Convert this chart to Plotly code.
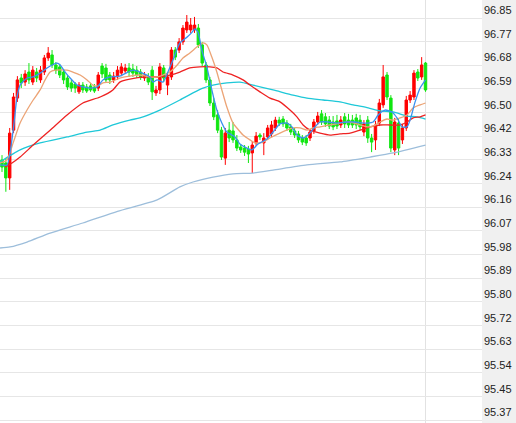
import plotly.graph_objects as go

# ---- candle data (price values) ----
idx = list(range(111))

open_ = [96.327, 96.316, 96.261, 96.437, 96.555, 96.629, 96.614, 96.651, 96.614, 96.651,
         96.622, 96.651, 96.703, 96.714, 96.677, 96.670, 96.651, 96.629, 96.611, 96.607,
         96.578, 96.603, 96.596, 96.600, 96.596, 96.592, 96.673, 96.666, 96.640, 96.622,
         96.633, 96.647, 96.655, 96.666, 96.662, 96.658, 96.651, 96.629, 96.633, 96.658,
         96.574, 96.585, 96.666, 96.603, 96.633, 96.732, 96.732, 96.762, 96.806, 96.806,
         96.806, 96.813, 96.751, 96.677, 96.622, 96.537, 96.493, 96.437, 96.334, 96.437,
         96.434, 96.401, 96.375, 96.371, 96.367, 96.353, 96.390, 96.419, 96.390, 96.412,
         96.423, 96.445, 96.474, 96.478, 96.463, 96.449, 96.434, 96.423, 96.408, 96.408,
         96.408, 96.434, 96.467, 96.497, 96.486, 96.474, 96.467, 96.471, 96.456, 96.486,
         96.474, 96.474, 96.482, 96.474, 96.430, 96.474, 96.408, 96.401, 96.463, 96.530,
         96.640, 96.555, 96.364, 96.463, 96.401, 96.445, 96.548, 96.559, 96.651, 96.633,
         96.684]

high = [96.345, 96.334, 96.445, 96.574, 96.636, 96.644, 96.658, 96.684, 96.673, 96.666,
        96.673, 96.714, 96.743, 96.732, 96.688, 96.681, 96.662, 96.640, 96.622, 96.614,
        96.614, 96.614, 96.607, 96.611, 96.607, 96.651, 96.684, 96.681, 96.651, 96.651,
        96.673, 96.684, 96.681, 96.684, 96.681, 96.673, 96.662, 96.651, 96.647, 96.673,
        96.600, 96.684, 96.677, 96.644, 96.743, 96.743, 96.776, 96.824, 96.861, 96.850,
        96.854, 96.828, 96.762, 96.688, 96.633, 96.555, 96.511, 96.449, 96.445, 96.467,
        96.467, 96.419, 96.386, 96.382, 96.379, 96.397, 96.430, 96.426, 96.426, 96.456,
        96.471, 96.486, 96.486, 96.489, 96.474, 96.460, 96.445, 96.434, 96.419, 96.419,
        96.441, 96.478, 96.504, 96.511, 96.500, 96.489, 96.489, 96.493, 96.489, 96.500,
        96.497, 96.493, 96.497, 96.493, 96.474, 96.489, 96.423, 96.471, 96.552, 96.677,
        96.651, 96.566, 96.482, 96.478, 96.460, 96.563, 96.581, 96.658, 96.662, 96.706,
        96.688]

low = [96.283, 96.210, 96.217, 96.426, 96.541, 96.592, 96.600, 96.607, 96.603, 96.614,
       96.611, 96.640, 96.692, 96.666, 96.644, 96.629, 96.607, 96.585, 96.578, 96.574,
       96.570, 96.574, 96.574, 96.578, 96.574, 96.581, 96.629, 96.611, 96.607, 96.611,
       96.622, 96.636, 96.644, 96.633, 96.633, 96.629, 96.622, 96.618, 96.603, 96.548,
       96.563, 96.570, 96.614, 96.566, 96.622, 96.695, 96.721, 96.751, 96.795, 96.795,
       96.795, 96.740, 96.673, 96.611, 96.526, 96.474, 96.426, 96.327, 96.309, 96.393,
       96.390, 96.360, 96.353, 96.342, 96.316, 96.279, 96.379, 96.401, 96.345, 96.401,
       96.412, 96.434, 96.452, 96.449, 96.434, 96.419, 96.408, 96.390, 96.382, 96.379,
       96.397, 96.423, 96.456, 96.456, 96.449, 96.441, 96.437, 96.441, 96.445, 96.445,
       96.445, 96.445, 96.441, 96.437, 96.415, 96.390, 96.356, 96.364, 96.452, 96.519,
       96.548, 96.356, 96.345, 96.345, 96.386, 96.434, 96.537, 96.548, 96.618, 96.622,
       96.578]

close = [96.301, 96.261, 96.426, 96.559, 96.622, 96.611, 96.644, 96.622, 96.658, 96.629,
         96.658, 96.703, 96.721, 96.677, 96.658, 96.640, 96.622, 96.596, 96.592, 96.592,
         96.603, 96.585, 96.581, 96.585, 96.581, 96.640, 96.644, 96.622, 96.622, 96.636,
         96.658, 96.670, 96.666, 96.651, 96.647, 96.640, 96.633, 96.640, 96.614, 96.578,
         96.585, 96.670, 96.629, 96.633, 96.732, 96.706, 96.762, 96.813, 96.835, 96.824,
         96.824, 96.751, 96.684, 96.622, 96.537, 96.486, 96.437, 96.338, 96.426, 96.408,
         96.401, 96.371, 96.364, 96.356, 96.349, 96.382, 96.415, 96.412, 96.408, 96.445,
         96.456, 96.474, 96.463, 96.460, 96.445, 96.430, 96.419, 96.401, 96.393, 96.390,
         96.430, 96.467, 96.489, 96.467, 96.460, 96.452, 96.449, 96.452, 96.474, 96.460,
         96.456, 96.456, 96.456, 96.449, 96.460, 96.408, 96.393, 96.456, 96.537, 96.633,
         96.559, 96.371, 96.467, 96.371, 96.445, 96.548, 96.566, 96.647, 96.629, 96.677,
         96.585]

# ---- moving-average lines ----
ma5_x = [-0.5, 1.3, 2.9, 3.9, 4.7, 6.5, 8.1, 9.9, 11.7, 13.0, 14.3, 15.1, 16.4, 17.7, 19.5,
         21.0, 22.9, 24.7, 26.2, 28.1, 30.6, 34.0, 35.8, 38.4, 39.2, 40.3, 41.8, 43.1, 44.4, 46.2,
         48.1, 49.4, 50.1, 50.9, 51.9, 53.2, 54.5, 55.8, 57.1, 58.4, 60.5, 61.8, 63.6, 64.9, 66.5,
         68.8, 70.4, 72.2, 74.0, 75.3, 76.6, 78.2, 79.5, 81.3, 82.6, 84.7, 87.0, 89.6, 91.7, 93.8,
         94.8, 96.4, 97.7, 99.5, 101.3, 102.6, 103.9, 105.2, 106.0, 107.3, 108.6, 110]
ma5_y = [96.309, 96.309, 96.437, 96.559, 96.603, 96.629, 96.633, 96.647, 96.666, 96.677,
         96.684, 96.677, 96.651, 96.629, 96.603, 96.596, 96.592, 96.596, 96.622, 96.633,
         96.636, 96.658, 96.651, 96.633, 96.614, 96.622, 96.614, 96.651, 96.695, 96.758,
         96.780, 96.798, 96.810, 96.798, 96.732, 96.670, 96.585, 96.511, 96.463, 96.430,
         96.412, 96.386, 96.371, 96.364, 96.386, 96.404, 96.430, 96.460, 96.463, 96.449,
         96.419, 96.408, 96.419, 96.449, 96.467, 96.467, 96.463, 96.467, 96.467, 96.463,
         96.463, 96.467, 96.493, 96.511, 96.504, 96.482, 96.449, 96.449, 96.474, 96.541,
         96.592, 96.622]

ma10_x = [-0.5, 1.3, 2.9, 4.7, 6.5, 8.1, 9.9, 11.2, 12.5, 13.8, 16.9, 18.4, 20.3, 22.1, 23.6,
          25.0, 26.2, 28.1, 30.6, 33.2, 35.8, 38.4, 40.3, 41.8, 43.6, 45.5, 47.0, 48.8, 50.6, 52.2,
          53.2, 54.5, 55.8, 57.1, 58.4, 60.0, 61.0, 62.6, 64.4, 65.7, 67.8, 69.6, 72.2, 75.6, 77.4,
          79.2, 80.8, 82.6, 85.2, 87.8, 90.4, 93.0, 94.8, 96.4, 98.2, 100.0, 101.6, 103.4, 105.2,
          106.8, 108.6, 110]
ma10_y = [96.316, 96.327, 96.390, 96.463, 96.511, 96.548, 96.585, 96.622, 96.651, 96.658,
          96.658, 96.651, 96.640, 96.622, 96.603, 96.600, 96.611, 96.614, 96.629, 96.636,
          96.640, 96.633, 96.633, 96.640, 96.651, 96.677, 96.703, 96.721, 96.743, 96.758,
          96.751, 96.706, 96.651, 96.585, 96.522, 96.463, 96.445, 96.419, 96.401, 96.390,
          96.393, 96.408, 96.426, 96.445, 96.445, 96.437, 96.445, 96.449, 96.456, 96.463,
          96.467, 96.456, 96.449, 96.452, 96.467, 96.478, 96.474, 96.482, 96.493, 96.519,
          96.530, 96.537]

ma20_x = [0.8, 2.6, 4.7, 8.1, 12.5, 16.9, 21.0, 25.5, 28.8, 30.6, 33.2, 37.7, 41.0, 43.6, 46.2,
          48.8, 51.4, 54.0, 55.8, 57.4, 60.0, 62.6, 64.4, 67.0, 69.6, 72.2, 74.8, 76.6, 78.2, 80.0,
          82.6, 85.2, 87.8, 90.4, 93.0, 95.6, 98.2, 100.8, 103.4, 105.2, 106.8, 108.6, 110]
ma20_y = [96.301, 96.316, 96.338, 96.382, 96.437, 96.493, 96.537, 96.559, 96.585, 96.614,
          96.625, 96.633, 96.633, 96.640, 96.651, 96.666, 96.670, 96.670, 96.666, 96.651,
          96.640, 96.622, 96.603, 96.578, 96.555, 96.541, 96.511, 96.486, 96.456, 96.437,
          96.426, 96.419, 96.423, 96.426, 96.437, 96.449, 96.456, 96.456, 96.456, 96.467,
          96.482, 96.486, 96.493]

ma60_x = [-0.5, 4.7, 9.9, 16.9, 22.1, 25.5, 28.8, 33.2, 35.8, 41.0, 46.2, 49.6, 52.2, 54.8, 58.4,
          61.8, 65.2, 70.4, 75.6, 79.2, 83.4, 87.8, 91.2, 95.1, 98.2, 101.6, 105.2, 107.8, 110]
ma60_y = [96.320, 96.364, 96.390, 96.412, 96.430, 96.437, 96.456, 96.474, 96.482, 96.511,
          96.548, 96.574, 96.592, 96.603, 96.611, 96.614, 96.603, 96.585, 96.566, 96.555,
          96.548, 96.541, 96.530, 96.519, 96.508, 96.504, 96.489, 96.486, 96.478]

ma120_x = [-0.5, 2.1, 6.5, 12.5, 21.0, 30.0, 40.3, 46.2, 49.6, 54.8, 60.0, 65.2, 70.4, 79.2,
           87.8, 95.6, 101.6, 110]
ma120_y = [96.003, 96.007, 96.025, 96.058, 96.095, 96.138, 96.180, 96.228, 96.246, 96.264,
           96.276, 96.279, 96.290, 96.309, 96.320, 96.338, 96.353, 96.382]

tick_top = 96.85
tick_step = 0.0871
tick_labels = ["96.85", "96.77", "96.68", "96.59", "96.50", "96.42", "96.33", "96.24", "96.16",
               "96.07", "95.98", "95.89", "95.80", "95.72", "95.63", "95.54", "95.45", "95.37"]
tick_vals = [tick_top - k * tick_step for k in range(len(tick_labels))]

fig = go.Figure()

fig.add_trace(go.Candlestick(
    x=idx, open=open_, high=high, low=low, close=close,
    increasing=dict(line=dict(color="#ff0000", width=1), fillcolor="#ff0000"),
    decreasing=dict(line=dict(color="#11e611", width=1), fillcolor="#11e611"),
    whiskerwidth=0, hoverinfo="skip", showlegend=False))

lines = [
    (ma120_x, ma120_y, "#9dbedb"),
    (ma60_x, ma60_y, "#1ec8d8"),
    (ma20_x, ma20_y, "#ee2222"),
    (ma10_x, ma10_y, "#eca476"),
    (ma5_x, ma5_y, "#3a90f0"),
]
for lx, ly, col in lines:
    fig.add_trace(go.Scatter(x=lx, y=ly, mode="lines",
                             line=dict(color=col, width=1.3, shape="spline", smoothing=0.6),
                             hoverinfo="skip", showlegend=False))

fig.add_shape(type="line", x0=110, x1=110, y0=0, y1=1, xref="x", yref="paper",
              line=dict(color="#e2e2e2", width=1), layer="below")

fig.update_layout(
    width=516, height=423,
    margin=dict(l=0, r=34, t=0, b=0, pad=0),
    paper_bgcolor="#f0f0f0", plot_bgcolor="#ffffff",
    showlegend=False,
    boxgap=0.1,
    xaxis=dict(range=[-0.519, 124.67], visible=False, rangeslider=dict(visible=False),
               fixedrange=True, automargin=False),
    yaxis=dict(side="right", range=[95.3584, 96.9163], tickvals=tick_vals, ticktext=tick_labels,
               showgrid=True, gridcolor="#e6e6e6", gridwidth=1, zeroline=False, showline=False,
               ticks="", ticklabelposition="outside top", automargin=False,
               ticklabelstandoff=1, fixedrange=True,
               tickfont=dict(family="Liberation Sans", size=11, color="#222222")),
)

fig.write_html("out.html", config={"displayModeBar": False},
               post_script="document.body.style.margin='0px';document.body.style.overflow='hidden';")
